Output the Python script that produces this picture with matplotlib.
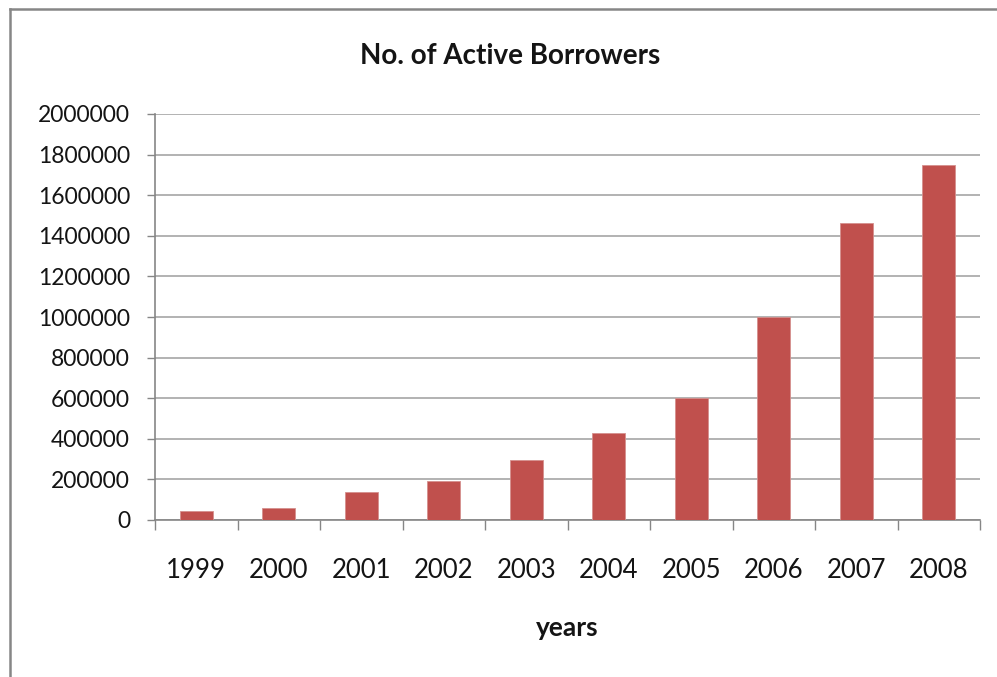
import matplotlib.pyplot as plt
from matplotlib.lines import Line2D
from matplotlib.ticker import MultipleLocator, FixedLocator

years = ['1999', '2000', '2001', '2002', '2003', '2004', '2005', '2006', '2007', '2008']
borrowers = [44000, 58000, 137000, 194000, 298000, 428000, 600000, 998000, 1465000, 1747000]

bar_color = '#C0504D'
axis_gray = '#868686'
grid_gray = '#a6a6a6'
text_color = '#141414'

plt.rcParams['font.family'] = ['Lato', 'DejaVu Sans']

fig = plt.figure(figsize=(9.97, 6.77), dpi=100)
W, H = 997, 677
ax = fig.add_axes([155 / W, 1 - 520 / H, 825 / W, 406 / H])

x = list(range(len(years)))
ax.bar(x, borrowers, width=0.4, color=bar_color, edgecolor='#d5908e', linewidth=0.6, zorder=3)

ax.set_xlim(-0.5, len(years) - 0.5)
ax.set_ylim(0, 2000000)

# y axis: gridlines every 200000, outward ticks
ax.yaxis.set_major_locator(MultipleLocator(200000))
ax.grid(axis='y', color=grid_gray, linewidth=1.2, zorder=0)
ax.tick_params(axis='y', direction='out', length=6, width=1, color=axis_gray,
               pad=12, labelsize=16.5, labelcolor=text_color)
ax.yaxis.set_major_formatter(plt.FuncFormatter(lambda v, p: f'{int(v)}'))

# x axis: tick marks between categories, labels centred under bars
ax.set_xticks(x)
ax.set_xticklabels(years, fontsize=18.5, color=text_color)
ax.xaxis.set_minor_locator(FixedLocator([i + 0.5 for i in range(-1, len(years))]))
ax.tick_params(axis='x', which='major', length=0, pad=27)
ax.tick_params(axis='x', which='minor', direction='out', length=7, width=1, color=axis_gray)

for side in ['top', 'right']:
    ax.spines[side].set_visible(False)
for side in ['left', 'bottom']:
    ax.spines[side].set_color(axis_gray)
    ax.spines[side].set_linewidth(1.2)

ax.set_xlabel('years', fontsize=19, fontweight='bold', color=text_color, va='center')
ax.xaxis.set_label_coords(0.5, -(628 - 520) / 406)

fig.text(510 / W, 1 - 56 / H, 'No. of Active Borrowers', ha='center', va='center',
         fontsize=20, fontweight='bold', color=text_color)

# chart frame (left and top edges)
fig.add_artist(Line2D([10 / W, 10 / W], [0, 1 - 9 / H], transform=fig.transFigure,
                      color=axis_gray, linewidth=1.8))
fig.add_artist(Line2D([10 / W, 1], [1 - 9 / H, 1 - 9 / H], transform=fig.transFigure,
                      color=axis_gray, linewidth=1.8))

fig.savefig('out.png', dpi=100)
